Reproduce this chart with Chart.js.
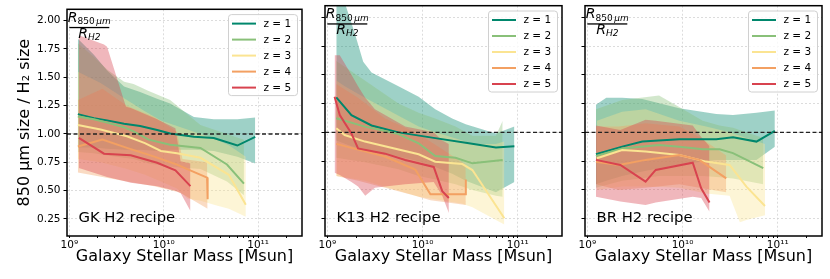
<!DOCTYPE html>
<html>
<head>
<meta charset="utf-8">
<title>850um / H2 size ratio</title>
<script src="https://cdn.jsdelivr.net/npm/chart.js@4.4.1/dist/chart.umd.min.js"></script>
<style>
  body { margin: 0; background: #fff; }
  #wrap { position: relative; width: 830px; height: 279px; }
  #wrap canvas { position: absolute; top: 0; }
</style>
</head>
<body>
<div id="wrap">
  <canvas id="gk" width="310" height="279" style="left:0px"></canvas>
  <canvas id="k13" width="260" height="279" style="left:310px"></canvas>
  <canvas id="br" width="260" height="279" style="left:570px"></canvas>
</div>
<script>
// rows: [stellar mass (Msun), lower, median, upper] of the 850um / H2 size ratio
// median null = band vertex only
const gk_z1 = [[1.23e9, 0.88, 1.175, 1.84], [1.82e9, 0.88, 1.14, 1.70], [2.51e9, 0.87, 1.12, 1.56], [3.80e9, 0.86, 1.09, 1.42],
  [5.62e9, 0.86, 1.07, 1.37], [8.51e9, 0.85, 1.035, 1.31], [1.17e10, 0.86, 1.005, 1.27], [2.09e10, 0.86, 0.976, 1.15],
  [3.39e10, 0.85, 0.965, 1.13], [6.03e10, 0.80, 0.898, 1.13], [9.33e10, 0.74, 0.974, 1.145]];
const gk_z2 = [[1.23e9, 0.84, 1.155, 1.80], [1.82e9, 0.83, 1.13, 1.68], [2.51e9, 0.81, 1.10, 1.57], [3.80e9, 0.79, 1.06, 1.46],
  [4.79e9, 0.78, 1.023, 1.44], [6.92e9, 0.74, 0.95, 1.38], [1.17e10, 0.71, 0.906, 1.30], [2.45e10, 0.69, 0.877, 1.08],
  [4.68e10, 0.58, 0.731, 1.00], [7.08e10, 0.46, 0.562, 0.95]];
const gk_z3 = [[1.23e9, 0.78, 1.08, 1.55], [2.14e9, 0.75, 1.04, 1.45], [4.07e9, 0.69, 0.98, 1.30], [6.31e9, 0.64, 0.92, 1.20],
  [9.33e9, 0.58, 0.85, 1.12], [1.38e10, 0.52, 0.83, 1.07], [1.78e10, 0.43, null, 1.04], [2.45e10, 0.41, 0.79, 1.00],
  [3.63e10, 0.37, null, 0.95], [4.90e10, 0.34, 0.64, 0.90], [7.41e10, 0.27, 0.375, 0.80]];
const gk_z4 = [[1.23e9, 0.66, 0.89, 1.30], [2.24e9, 0.62, 0.95, 1.40], [4.07e9, 0.58, 0.877, 1.25], [7.94e9, 0.54, 0.80, 1.15],
  [1.38e10, 0.49, 0.73, 1.02], [1.58e10, 0.47, null, 0.78], [2.88e10, 0.34, 0.615, 0.75], [2.92e10, 0.34, 0.425, 0.75]];
const gk_z5 = [[1.26e9, 0.70, 0.965, 1.87], [2.33e9, 0.63, 0.826, 1.79], [2.51e9, 0.62, null, 1.77], [3.98e9, 0.58, null, 1.24],
  [4.47e9, 0.57, 0.813, 1.23], [8.51e9, 0.54, 0.746, 1.13], [1.33e10, 0.50, 0.68, 1.05], [1.51e10, 0.48, null, 0.76],
  [1.92e10, 0.32, 0.54, 0.74]];

const k13_z1 = [[1.24e9, 0.93, 1.304, 2.35], [1.79e9, 0.88, 1.15, 1.95], [1.94e9, 0.87, null, 1.86], [2.38e9, 0.86, null, 1.614],
  [2.91e9, 0.84, 1.06, 1.52], [5.58e9, 0.79, 1.00, 1.40], [9.10e9, 0.75, null, 1.31], [1.36e10, 0.70, 0.95, 1.20],
  [2.05e10, 0.64, null, 1.12], [2.84e10, 0.58, 0.91, 1.07], [5.90e10, 0.48, 0.868, 0.99], [9.23e10, 0.57, 0.88, 1.05]];
const k13_z2 = [[1.24e9, 0.78, 1.122, 1.62], [2.48e9, 0.74, 1.05, 1.45], [5.58e9, 0.68, 0.986, 1.25], [9.10e9, 0.62, 0.905, 1.17],
  [1.36e10, 0.59, 0.795, 1.12], [2.22e10, 0.55, 0.78, 1.05], [3.34e10, 0.50, 0.731, 0.97], [5.90e10, 0.45, null, 0.97],
  [6.95e10, 0.44, 0.76, 1.10]];
const k13_z3 = [[1.24e9, 0.62, 1.035, 1.45], [1.52e9, 0.61, 0.977, 1.40], [2.48e9, 0.58, 0.92, 1.30], [9.10e9, 0.44, 0.81, 1.05],
  [1.36e10, 0.42, 0.745, 1.00], [2.62e10, 0.38, 0.725, 0.93], [3.34e10, 0.35, 0.673, 0.90], [5.90e10, 0.24, null, 0.90],
  [7.23e10, 0.20, 0.254, 0.92]];
const k13_z4 = [[1.24e9, 0.62, 0.90, 1.42], [2.10e9, 0.58, 0.85, 1.30], [4.04e9, 0.52, 0.79, 1.12], [8.38e9, 0.45, 0.677, 1.00],
  [1.21e10, 0.41, 0.462, 0.92], [2.84e10, 0.37, 0.462, 0.72], [2.85e10, 0.37, 0.59, 0.72]];
const k13_z5 = [[1.19e9, 0.65, 1.31, 1.67], [1.35e9, 0.63, 1.15, 1.67], [1.79e9, 0.57, 0.99, 1.50], [2.10e9, 0.53, 0.86, 1.40],
  [2.50e9, 0.45, null, 1.30], [3.16e9, 0.52, null, 1.20], [4.04e9, 0.53, 0.815, 1.15], [6.58e9, 0.55, 0.76, 1.05],
  [1.31e10, 0.57, 0.70, 1.00], [1.61e10, 0.45, 0.49, 0.93], [1.89e10, 0.30, 0.43, 0.90]];

const br_z1 = [[1.23e9, 0.55, 0.81, 1.24], [1.58e9, 0.58, null, 1.30], [2.32e9, 0.62, 0.876, 1.30], [3.78e9, 0.66, 0.92, 1.29],
  [9.23e9, 0.72, 0.94, 1.21], [2.26e10, 0.76, 0.94, 1.16], [3.39e10, 0.76, 0.957, 1.15], [5.98e10, 0.76, 0.92, 1.17],
  [9.33e10, 0.876, 1.012, 1.19]];
const br_z2 = [[1.23e9, 0.52, 0.795, 1.20], [2.32e9, 0.58, 0.86, 1.28], [5.66e9, 0.62, 0.89, 1.32], [9.23e9, 0.62, 0.876, 1.22],
  [1.63e10, 0.62, 0.853, 1.10], [2.45e10, 0.61, 0.853, 1.06], [3.39e10, 0.60, 0.82, 1.04], [7.05e10, 0.55, 0.69, 0.95]];
const br_z3 = [[1.26e9, 0.50, 0.775, 1.10], [2.32e9, 0.53, 0.847, 1.18], [4.09e9, 0.53, 0.833, 1.20], [9.23e9, 0.52, 0.804, 1.10],
  [1.77e10, 0.47, 0.746, 1.05], [3.12e10, 0.45, 0.717, 1.00], [4.00e10, 0.22, null, 0.97], [4.69e10, 0.24, 0.529, 0.95],
  [7.35e10, 0.28, 0.361, 0.90]];
const br_z4 = [[1.23e9, 0.55, 0.745, 1.05], [2.14e9, 0.50, 0.717, 1.05], [4.09e9, 0.52, 0.761, 1.08], [9.23e9, 0.55, 0.804, 1.05],
  [1.50e10, 0.52, 0.761, 0.96], [2.88e10, 0.48, 0.601, 0.80]];
const br_z5 = [[1.23e9, 0.44, 0.761, 1.06], [2.22e9, 0.40, 0.717, 1.02], [4.09e9, 0.37, 0.572, 1.11], [5.22e9, 0.39, 0.674, 1.10],
  [1.28e10, 0.44, 0.737, 1.06], [1.57e10, 0.43, 0.514, 0.96], [1.92e10, 0.31, 0.39, 0.88]];

const redshifts = [1, 2, 3, 4, 5];
const recipes = ['GK H2 recipe', 'K13 H2 recipe', 'BR H2 recipe'];
const xRange = [9.44e8, 2.92e11];
const yRange = [0.1, 2.1];
const yTicks = [0.25, 0.5, 0.75, 1.0, 1.25, 1.5, 1.75, 2.0];
const xMajor = [1e9, 1e10, 1e11];
const xTickLabels = ['10⁹', '10¹⁰', '10¹¹'];
const xMinor = [2e9, 3e9, 4e9, 5e9, 6e9, 7e9, 8e9, 9e9, 2e10, 3e10, 4e10, 5e10, 6e10, 7e10, 8e10, 9e10, 2e11];

const zColors = ['#00876c', '#89c079', '#fbe492', '#f3a062', '#d8434f'];
const FONT = '"DejaVu Sans", sans-serif';

function rgba(hex, a) {
    const n = parseInt(hex.slice(1), 16);
    return 'rgba(' + (n >> 16) + ',' + ((n >> 8) & 255) + ',' + (n & 255) + ',' + a + ')';
}

const framePlugin = {
    id: 'frame',
    afterDatasetsDraw(chart) {
        const {ctx, chartArea: a} = chart;
        ctx.save();
        ctx.strokeStyle = '#000';
        ctx.lineWidth = 1.5;
        ctx.strokeRect(a.left, a.top, a.right - a.left, a.bottom - a.top);
        ctx.restore();
    }
};

// legend box, R850/RH2 fraction and recipe name
const textPlugin = {
    id: 'panelText',
    afterDraw(chart, args, opts) {
        const {ctx, chartArea: a} = chart;
        ctx.save();

        // legend
        const bw = 69, bh = 81;
        const bx = a.right - 4.5 - bw, by = a.top + 5.3;
        ctx.beginPath();
        ctx.roundRect(bx, by, bw, bh, 3);
        ctx.fillStyle = 'rgba(255,255,255,0.8)';
        ctx.fill();
        ctx.strokeStyle = '#d0d0d0';
        ctx.lineWidth = 1;
        ctx.stroke();
        ctx.font = '10.5px ' + FONT;
        ctx.textBaseline = 'middle';
        ctx.textAlign = 'left';
        redshifts.forEach((z, i) => {
            const y = by + 9 + i * 16;
            ctx.strokeStyle = zColors[i];
            ctx.lineWidth = 2;
            ctx.beginPath();
            ctx.moveTo(bx + 3.5, y);
            ctx.lineTo(bx + 27.5, y);
            ctx.stroke();
            ctx.fillStyle = '#000';
            ctx.fillText('z = ' + z, bx + 35, y + 0.5);
        });

        // fraction R_850um / R_H2
        ctx.fillStyle = '#000';
        ctx.textBaseline = 'alphabetic';
        const barL = a.left + 2.3, barR = a.left + 42.3, cx = (barL + barR) / 2;
        ctx.font = 'italic 14px ' + FONT;
        const wR = ctx.measureText('R').width;
        ctx.font = '9px ' + FONT;
        const w850 = ctx.measureText('850').width;
        ctx.font = 'italic 9px ' + FONT;
        const wUm = ctx.measureText('μm').width;
        const wH2 = ctx.measureText('H2').width;
        let x = cx - (wR + w850 + 1.5 + wUm) / 2;
        ctx.font = 'italic 14px ' + FONT;
        ctx.fillText('R', x, a.top + 12.6);
        ctx.font = '9px ' + FONT;
        ctx.fillText('850', x + wR, a.top + 15);
        ctx.font = 'italic 9px ' + FONT;
        ctx.fillText('μm', x + wR + w850 + 1.5, a.top + 15);
        ctx.fillRect(barL, a.top + 17.6, barR - barL, 1.3);
        x = cx - (wR + wH2) / 2;
        ctx.font = 'italic 14px ' + FONT;
        ctx.fillText('R', x, a.top + 28.3);
        ctx.font = 'italic 9px ' + FONT;
        ctx.fillText('H2', x + wR, a.top + 30.5);

        // recipe name
        ctx.font = '14.8px ' + FONT;
        ctx.fillText(opts.recipe, a.left + 11.5, a.bottom - 14.5);
        ctx.restore();
    }
};

function buildDatasets(series) {
    const ds = [{
        label: 'unity',
        data: [{x: xRange[0], y: 1}, {x: xRange[1], y: 1}],
        borderColor: '#222', borderWidth: 1.3, borderDash: [4, 2.5], pointRadius: 0, fill: false
    }];
    // z=5 first so its band and line end up on top
    for (let i = series.length - 1; i >= 0; i--) {
        const rows = series[i];
        const col = zColors[i];
        ds.push({
            label: 'lo' + i, data: rows.map(r => ({x: r[0], y: r[1]})),
            borderWidth: 0, borderColor: 'rgba(0,0,0,0)', pointRadius: 0, fill: false
        });
        ds.push({
            label: 'hi' + i, data: rows.map(r => ({x: r[0], y: r[3]})),
            borderWidth: 0, borderColor: 'rgba(0,0,0,0)', pointRadius: 0,
            fill: '-1', backgroundColor: rgba(col, 0.38)
        });
        ds.push({
            label: 'z = ' + redshifts[i],
            data: rows.filter(r => r[2] !== null).map(r => ({x: r[0], y: r[2]})),
            borderColor: col, borderWidth: 2, pointRadius: 0, fill: false
        });
    }
    return ds;
}

function makeChart(id, series, recipe, first) {
    const tickFont = {family: FONT, size: 10.5};
    const gridColor = '#d4d4d4';
    return new Chart(id, {
        type: 'line',
        data: {datasets: buildDatasets(series)},
        plugins: [framePlugin, textPlugin],
        options: {
            responsive: false,
            animation: false,
            layout: {padding: {top: 5.7, right: 8, left: 0, bottom: 0}},
            elements: {line: {tension: 0}},
            plugins: {
                legend: {display: false},
                tooltip: {enabled: false},
                filler: {drawTime: 'beforeDatasetsDraw'},
                panelText: {recipe: recipe}
            },
            scales: {
                x: {
                    type: 'logarithmic', min: xRange[0], max: xRange[1],
                    afterBuildTicks: s => {
                        s.ticks = xMajor.concat(xMinor).sort((a, b) => a - b)
                            .map(v => ({value: v, major: xMajor.includes(v)}));
                    },
                    afterFit: s => { s.height = 43; },
                    ticks: {
                        autoSkip: false, maxRotation: 0, padding: 1, font: tickFont, color: '#000',
                        callback: v => { const k = xMajor.indexOf(v); return k >= 0 ? xTickLabels[k] : ''; }
                    },
                    grid: {
                        color: c => (c.tick && xMajor.includes(c.tick.value)) ? gridColor : 'rgba(0,0,0,0)',
                        lineWidth: 0.8, tickColor: '#000', tickWidth: 1,
                        tickLength: c => (c.tick && xMajor.includes(c.tick.value)) ? 3.5 : 2
                    },
                    border: {display: false, dash: [2, 2]},
                    title: {
                        display: true, text: 'Galaxy Stellar Mass [Msun]', color: '#000',
                        font: {family: FONT, size: 16}, padding: {top: 0, bottom: 12.4}
                    }
                },
                y: {
                    min: yRange[0], max: yRange[1],
                    afterBuildTicks: s => { s.ticks = yTicks.map(v => ({value: v})); },
                    afterFit: s => { s.width = first ? 67 : 15; },
                    ticks: {
                        display: first, padding: 3, font: tickFont, color: '#000',
                        callback: v => v.toFixed(2)
                    },
                    grid: {color: gridColor, lineWidth: 0.8, tickColor: '#000', tickWidth: 1, tickLength: 3.5},
                    border: {display: false, dash: [2, 2]},
                    title: {
                        display: first, text: '850 μm size / H₂ size', color: '#000',
                        font: {family: FONT, size: 16}, padding: {top: 15.4, bottom: 0}
                    }
                }
            }
        }
    });
}

makeChart('gk', [gk_z1, gk_z2, gk_z3, gk_z4, gk_z5], recipes[0], true);
makeChart('k13', [k13_z1, k13_z2, k13_z3, k13_z4, k13_z5], recipes[1], false);
makeChart('br', [br_z1, br_z2, br_z3, br_z4, br_z5], recipes[2], false);
</script>
</body>
</html>
